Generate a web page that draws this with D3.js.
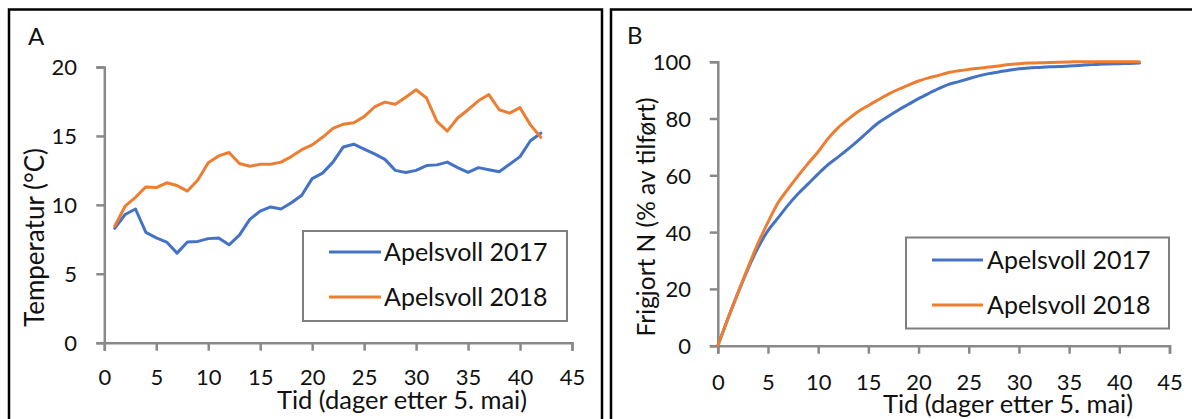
<!DOCTYPE html>
<html>
<head>
<meta charset="utf-8">
<script src="https://cdn.jsdelivr.net/npm/d3@7/dist/d3.min.js"></script>
<style>
  html, body { margin: 0; padding: 0; background: #fff; }
  svg { display: block; }
  text { font-family: Lato, "Open Sans", sans-serif; fill: #111; }
</style>
</head>
<body>
<svg id="chart" width="1192" height="419"></svg>
<script>
// Panel A: daily mean temperature, days 1–42 after 5 May
const tempDays = d3.range(1, 43);
const temp2017 = [8.3, 9.3, 9.7, 8.0, 7.6, 7.3, 6.5, 7.3, 7.35, 7.55, 7.6, 7.1, 7.8, 8.95, 9.55,
                  9.85, 9.7, 10.15, 10.7, 11.9, 12.3, 13.1, 14.2, 14.4, 14.05, 13.7, 13.3, 12.5,
                  12.35, 12.5, 12.85, 12.9, 13.1, 12.7, 12.35, 12.7, 12.55, 12.4, 12.95, 13.5,
                  14.65, 15.2];
const temp2018 = [8.45, 9.9, 10.55, 11.3, 11.25, 11.6, 11.4, 11.0, 11.8, 13.05, 13.55, 13.8,
                  13.0, 12.8, 12.95, 12.95, 13.1, 13.5, 14.0, 14.35, 14.9, 15.55, 15.85, 15.95,
                  16.4, 17.1, 17.45, 17.3, 17.8, 18.35, 17.75, 16.05, 15.35, 16.3, 16.9, 17.55,
                  18.0, 16.9, 16.65, 17.05, 15.8, 14.9];

// Panel B: released N (% of applied), days 0–42
const nDays = d3.range(0, 43);
const n2017 = [0, 9.5, 18.5, 27, 34.5, 40.5, 45, 49.5, 53.5, 57, 60.5, 63.8, 66.5, 69.3, 72.3,
               75.5, 78.5, 80.8, 83, 85, 87, 88.8, 90.5, 92, 93, 94, 95, 95.8, 96.4, 97, 97.5,
               97.8, 98, 98.2, 98.3, 98.5, 98.7, 98.9, 99.1, 99.2, 99.3, 99.4, 99.5];
const n2018 = [0, 9.5, 18.5, 27.5, 36, 43.5, 50.3, 55.2, 59.8, 64.2, 68.3, 73, 76.8, 79.8, 82.5,
               84.6, 86.6, 88.6, 90.3, 91.8, 93.2, 94.3, 95.2, 96.2, 96.8, 97.3, 97.7, 98.1,
               98.5, 99, 99.3, 99.5, 99.6, 99.7, 99.8, 99.9, 100, 100, 100, 100, 100, 100, 100];

const xTicks = [0, 5, 10, 15, 20, 25, 30, 35, 40, 45];
const tempTicks = [0, 5, 10, 15, 20];
const nTicks = [0, 20, 40, 60, 80, 100];
const seriesNames = ["Apelsvoll 2017", "Apelsvoll 2018"];
const colors = ["#4472C4", "#ED7D31"];
const xTitle = "Tid (dager etter 5. mai)";

const svg = d3.select("#chart");
svg.append("rect").attr("width", 1192).attr("height", 419).attr("fill", "#fff");

// panel frames
svg.append("rect").attr("x", 9).attr("y", 9.5).attr("width", 593).attr("height", 440)
  .attr("fill", "none").attr("stroke", "#000").attr("stroke-width", 2.5);
svg.append("rect").attr("x", 611).attr("y", 9.5).attr("width", 640).attr("height", 440)
  .attr("fill", "none").attr("stroke", "#000").attr("stroke-width", 2.5);

function drawPanel(cfg) {
  const g = svg.append("g");
  const x = d3.scaleLinear().domain([0, 45]).range(cfg.xRange);
  const y = d3.scaleLinear().domain(cfg.yDomain).range(cfg.yRange);

  const axisColor = "#898989";
  const xAxis = g.append("g").attr("transform", `translate(0,${cfg.yRange[0]})`)
    .call(d3.axisBottom(x).tickValues(xTicks).tickSize(8).tickSizeOuter(8).tickPadding(0));
  const yAxis = g.append("g").attr("transform", `translate(${cfg.xRange[0]},0)`)
    .call(d3.axisLeft(y).tickValues(cfg.yTicks).tickSize(8).tickSizeOuter(8));

  [xAxis, yAxis].forEach(a => {
    a.selectAll("path.domain").attr("stroke", axisColor).attr("stroke-width", 2.5);
    a.selectAll(".tick line").attr("stroke", axisColor).attr("stroke-width", 2.5);
    a.selectAll(".tick text").attr("font-family", "Lato, sans-serif")
      .attr("font-size", 22).attr("fill", "#111");
  });
  xAxis.selectAll(".tick text").attr("y", cfg.xLabelBase - cfg.yRange[0]).attr("dy", 0);
  yAxis.selectAll(".tick text").attr("x", cfg.yLabelRight - cfg.xRange[0]).attr("dy", "0.36em");

  // series
  const line = d3.line()
    .x((d, i) => x(cfg.days[i]))
    .y(d => y(d))
    .curve(cfg.curve);
  cfg.series.forEach((s, k) => {
    g.append("path").datum(s)
      .attr("fill", "none").attr("stroke", colors[k]).attr("stroke-width", 3)
      .attr("stroke-linejoin", "round").attr("stroke-linecap", "round")
      .attr("d", line);
  });

  // axis titles
  g.append("text").attr("x", cfg.xTitlePos[0]).attr("y", cfg.xTitlePos[1])
    .attr("text-anchor", "middle").attr("font-size", 25.5).text(xTitle);
  g.append("text")
    .attr("transform", `translate(${cfg.yTitlePos[0]},${cfg.yTitlePos[1]}) rotate(-90)`)
    .attr("text-anchor", "middle").attr("font-size", cfg.yTitleSize).text(cfg.yTitle);

  // panel letter
  g.append("text").attr("x", cfg.letterPos[0]).attr("y", cfg.letterPos[1])
    .attr("font-size", 24).text(cfg.letter);

  // legend
  const L = cfg.legend;
  g.append("rect").attr("x", L.x).attr("y", L.y).attr("width", L.w).attr("height", L.h)
    .attr("fill", "#fff").attr("stroke", "#7f7f7f").attr("stroke-width", 2);
  seriesNames.forEach((name, k) => {
    const ly = L.rows[k];
    g.append("line").attr("x1", L.lineX[0]).attr("x2", L.lineX[1])
      .attr("y1", ly).attr("y2", ly)
      .attr("stroke", colors[k]).attr("stroke-width", 3);
    g.append("text").attr("x", L.textX).attr("y", ly).attr("dy", "0.36em")
      .attr("font-size", 25).text(name);
  });
}

drawPanel({
  letter: "A", letterPos: [28, 45],
  days: tempDays, series: [temp2017, temp2018], curve: d3.curveLinear,
  xRange: [104.3, 572], yRange: [342.7, 67], yDomain: [0, 20], yTicks: tempTicks,
  xLabelBase: 385, yLabelRight: 77,
  yTitle: "Temperatur (°C)", yTitlePos: [43.5, 237.5], yTitleSize: 26,
  xTitlePos: [402, 409],
  legend: { x: 303, y: 231, w: 264, h: 90, rows: [252, 297], lineX: [329, 381], textX: 384 }
});

drawPanel({
  letter: "B", letterPos: [627, 44],
  days: nDays, series: [n2017, n2018], curve: d3.curveMonotoneX,
  xRange: [717.8, 1169.5], yRange: [345.7, 61.7], yDomain: [0, 100], yTicks: nTicks,
  xLabelBase: 390, yLabelRight: 691,
  yTitle: "Frigjort N (% av tilført)", yTitlePos: [655, 217], yTitleSize: 24.5,
  xTitlePos: [1008, 412.5],
  legend: { x: 906, y: 237.5, w: 263, h: 91, rows: [260, 305], lineX: [932, 983], textX: 987 }
});
</script>
</body>
</html>
